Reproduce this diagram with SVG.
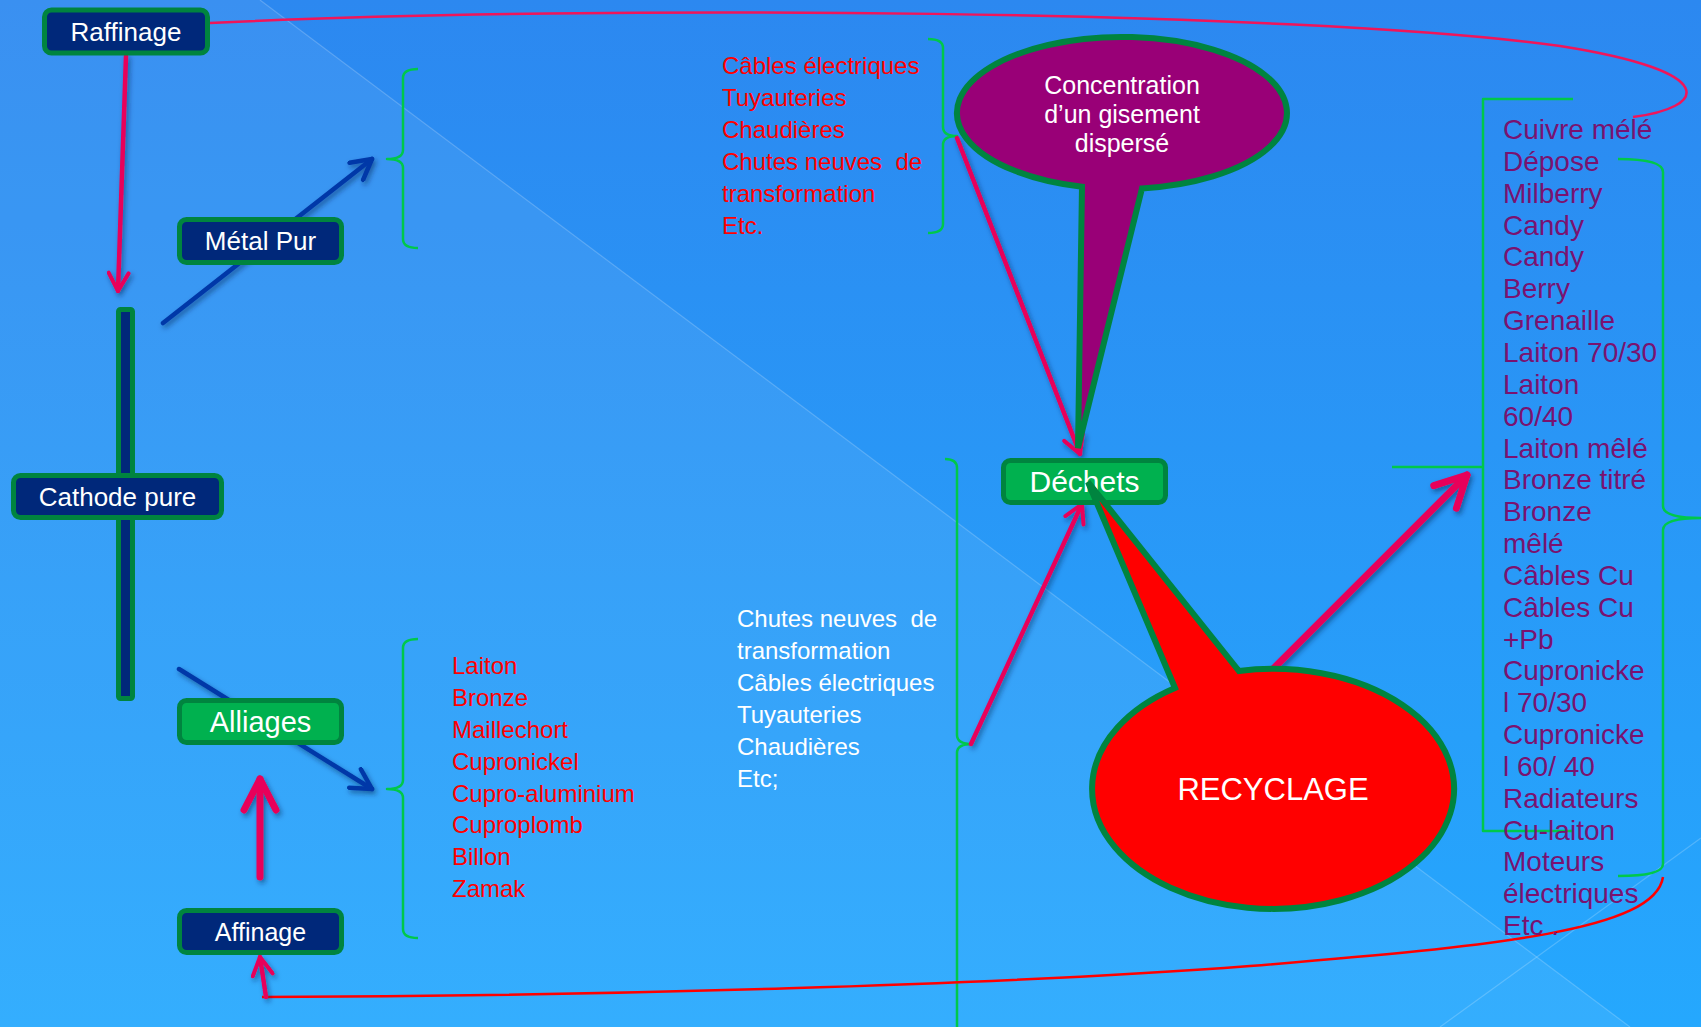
<svg xmlns="http://www.w3.org/2000/svg" width="1701" height="1027" viewBox="0 0 1701 1027">
<defs>
<linearGradient id="bg" x1="0" y1="0" x2="0" y2="1">
<stop offset="0" stop-color="#2C88F0"/>
<stop offset="1" stop-color="#25A8FE"/>
</linearGradient>
<filter id="sh" filterUnits="userSpaceOnUse" x="0" y="0" width="1701" height="1027">
<feDropShadow dx="2" dy="3" stdDeviation="2.5" flood-color="#001a4d" flood-opacity="0.5"/>
</filter>
<marker id="mRedS" viewBox="0 0 24 24" refX="21" refY="12" markerWidth="24" markerHeight="24" markerUnits="userSpaceOnUse" orient="auto">
<path d="M3,2 L21,12 L3,22" fill="none" stroke="#E8005A" stroke-width="4" stroke-linecap="round" stroke-linejoin="round"/>
</marker>
<marker id="mRedL" viewBox="0 0 40 40" refX="36" refY="20" markerWidth="40" markerHeight="40" markerUnits="userSpaceOnUse" orient="auto">
<path d="M5,4 L36,20 L5,36" fill="none" stroke="#E8005A" stroke-width="7" stroke-linecap="round" stroke-linejoin="round"/>
</marker>
<marker id="mBlue" viewBox="0 0 26 26" refX="23" refY="13" markerWidth="26" markerHeight="26" markerUnits="userSpaceOnUse" orient="auto">
<path d="M3,2 L23,13 L3,24" fill="none" stroke="#0038A8" stroke-width="4.5" stroke-linecap="round" stroke-linejoin="round"/>
</marker>
</defs>
<style>
.box{fill:#00287A;stroke:#00843F;stroke-width:5}
.gbox{fill:#00B14F;stroke:#00843F;stroke-width:5}
.lbl{font-family:"Liberation Sans",Arial,sans-serif;fill:#FFFFFF;text-anchor:middle}
.brk{fill:none;stroke:#00C84A;stroke-width:2.5;stroke-linejoin:round}
.list{font-family:"Liberation Sans",Arial,sans-serif;font-size:24px}
.red{fill:#FF0000}
.wht{fill:#FFFFFF}
.pur{font-family:"Liberation Sans",Arial,sans-serif;font-size:28px;fill:#7A1270}
.arS{fill:none;stroke:#E8005A;stroke-width:4.5;stroke-linecap:round}
.arL{fill:none;stroke:#E8005A;stroke-width:7;stroke-linecap:round}
.arB{fill:none;stroke:#0038A8;stroke-width:4.5;stroke-linecap:round}
.curve{fill:none;stroke-width:2.5}
</style>
<g id="background">
<rect x="0" y="0" width="1701" height="1027" fill="url(#bg)"/>
<polygon points="0,0 260,0 1630,1027 0,1027" fill="#FFFFFF" fill-opacity="0.07"/>
<line x1="260" y1="0" x2="1630" y2="1027" stroke="#FFFFFF" stroke-opacity="0.2" stroke-width="1.2"/>
<line x1="1701" y1="838" x2="1440" y2="1027" stroke="#FFFFFF" stroke-opacity="0.2" stroke-width="1.2"/>
</g>
<g id="brackets">
<path class="brk" d="M418,69 Q403,69 403,78 L403,150 Q403,159 387,159 Q403,159 403,168 L403,239 Q403,248 418,248"/>
<path class="brk" d="M418,639 Q403,639 403,648 L403,780 Q403,789 387,789 Q403,789 403,798 L403,929 Q403,938 418,938"/>
<path class="brk" d="M928,39 Q943,39 943,48 L943,127 Q943,136 957,136 Q943,136 943,145 L943,224 Q943,233 928,233"/>
<path class="brk" d="M945,459 Q957,459 957,468 L957,735 Q957,744 972,744 Q957,744 957,753 L957,1030"/>
<path class="brk" d="M1573,99 L1483,99 L1483,831 L1573,831 M1392,467 L1483,467"/>
<path class="brk" d="M1618,159 Q1663,159 1663,172 L1663,506 Q1663,518 1701,518 Q1663,518 1663,530 L1663,864 Q1663,876 1618,876"/>
</g>
<g id="connectors">
<path class="curve" stroke="#F0155A" d="M210,23 C600,4 1300,10 1560,46 C1725,72 1705,108 1633,117"/>
<path class="curve" stroke="#FF0000" d="M1663,877 C1655,930 1500,946 1250,966 C1000,985 600,996 262,997"/>
<line class="arS" x1="266" y1="997" x2="260" y2="957" marker-end="url(#mRedS)" filter="url(#sh)"/>
<line class="arS" x1="126" y1="56" x2="118" y2="291" marker-end="url(#mRedS)" filter="url(#sh)"/>
<line class="arB" x1="163" y1="323" x2="372" y2="159" marker-end="url(#mBlue)" filter="url(#sh)"/>
<line class="arB" x1="179" y1="669" x2="372" y2="789" marker-end="url(#mBlue)" filter="url(#sh)"/>
<line class="arL" x1="260" y1="877" x2="260" y2="779" marker-end="url(#mRedL)" filter="url(#sh)"/>
<line class="arS" x1="957" y1="138" x2="1080" y2="454" marker-end="url(#mRedS)" filter="url(#sh)"/>
<line class="arS" x1="971" y1="744" x2="1082" y2="504" marker-end="url(#mRedS)" filter="url(#sh)"/>
<line class="arL" x1="1274" y1="668" x2="1467" y2="475" marker-end="url(#mRedL)" filter="url(#sh)"/>
</g>
<g id="cathode-bar">
<rect x="118.5" y="309.5" width="14" height="389" rx="2" class="box"/>
</g>
<g id="node-raffinage">
<rect x="44.5" y="10" width="163" height="43" rx="7" class="box"/>
<text x="126" y="41" class="lbl" font-size="26">Raffinage</text>
</g>
<g id="node-metal-pur">
<rect x="179.5" y="219.5" width="162" height="43" rx="7" class="box"/>
<text x="260.5" y="250" class="lbl" font-size="26">Métal Pur</text>
</g>
<g id="node-cathode">
<rect x="13.5" y="475.5" width="208" height="42" rx="7" class="box"/>
<text x="117.5" y="506" class="lbl" font-size="26">Cathode pure</text>
</g>
<g id="node-alliages">
<rect x="179.5" y="700.5" width="162" height="42" rx="7" class="gbox"/>
<text x="260.5" y="732" class="lbl" font-size="29">Alliages</text>
</g>
<g id="node-affinage">
<rect x="179.5" y="910.5" width="162" height="42" rx="7" class="box"/>
<text x="260.5" y="941" class="lbl" font-size="25">Affinage</text>
</g>
<g id="node-dechets">
<rect x="1003.5" y="460.5" width="162" height="42" rx="7" class="gbox"/>
<text x="1084.5" y="492" class="lbl" font-size="30">Déchets</text>
</g>
<g id="node-concentration">
<path d="M1082,186.7 A165,76 0 1,1 1142,188.4 L1078,448 Z" fill="#990077" stroke="#00843F" stroke-width="6" stroke-linejoin="miter"/>
<text class="lbl" font-size="25"><tspan x="1122" y="94">Concentration</tspan><tspan x="1122" y="123">d’un gisement</tspan><tspan x="1122" y="152">dispersé</tspan></text>
</g>
<g id="node-recyclage">
<path d="M1239,671 A181,120 0 1,1 1175,688 L1088,482 Z" fill="#FF0000" stroke="#00843F" stroke-width="6" stroke-linejoin="miter"/>
<text x="1273" y="800" class="lbl" font-size="31">RECYCLAGE</text>
</g>
<g id="list-usages" class="list red">
<text x="722" y="74">Câbles électriques</text>
<text x="722" y="106">Tuyauteries</text>
<text x="722" y="138">Chaudières</text>
<text x="722" y="170">Chutes neuves&#160; de</text>
<text x="722" y="202">transformation</text>
<text x="722" y="234">Etc.</text>
</g>
<g id="list-chutes" class="list wht">
<text x="737" y="627">Chutes neuves&#160; de</text>
<text x="737" y="659">transformation</text>
<text x="737" y="691">Câbles électriques</text>
<text x="737" y="723">Tuyauteries</text>
<text x="737" y="755">Chaudières</text>
<text x="737" y="787">Etc;</text>
</g>
<g id="list-alliages" class="list red">
<text x="452" y="674">Laiton</text>
<text x="452" y="706">Bronze</text>
<text x="452" y="738">Maillechort</text>
<text x="452" y="770">Cupronickel</text>
<text x="452" y="802">Cupro-aluminium</text>
<text x="452" y="833">Cuproplomb</text>
<text x="452" y="865">Billon</text>
<text x="452" y="897">Zamak</text>
</g>
<g id="list-dechets" class="pur">
<text x="1503" y="139">Cuivre mélé</text>
<text x="1503" y="171">Dépose</text>
<text x="1503" y="203">Milberry</text>
<text x="1503" y="235">Candy</text>
<text x="1503" y="266">Candy</text>
<text x="1503" y="298">Berry</text>
<text x="1503" y="330">Grenaille</text>
<text x="1503" y="362">Laiton 70/30</text>
<text x="1503" y="394">Laiton</text>
<text x="1503" y="426">60/40</text>
<text x="1503" y="458">Laiton mêlé</text>
<text x="1503" y="489">Bronze titré</text>
<text x="1503" y="521">Bronze</text>
<text x="1503" y="553">mêlé</text>
<text x="1503" y="585">Câbles Cu</text>
<text x="1503" y="617">Câbles Cu</text>
<text x="1503" y="649">+Pb</text>
<text x="1503" y="680">Cupronicke</text>
<text x="1503" y="712">l 70/30</text>
<text x="1503" y="744">Cupronicke</text>
<text x="1503" y="776">l 60/ 40</text>
<text x="1503" y="808">Radiateurs</text>
<text x="1503" y="840">Cu-laiton</text>
<text x="1503" y="871">Moteurs</text>
<text x="1503" y="903">électriques</text>
<text x="1503" y="935">Etc .</text>
</g>
</svg>
